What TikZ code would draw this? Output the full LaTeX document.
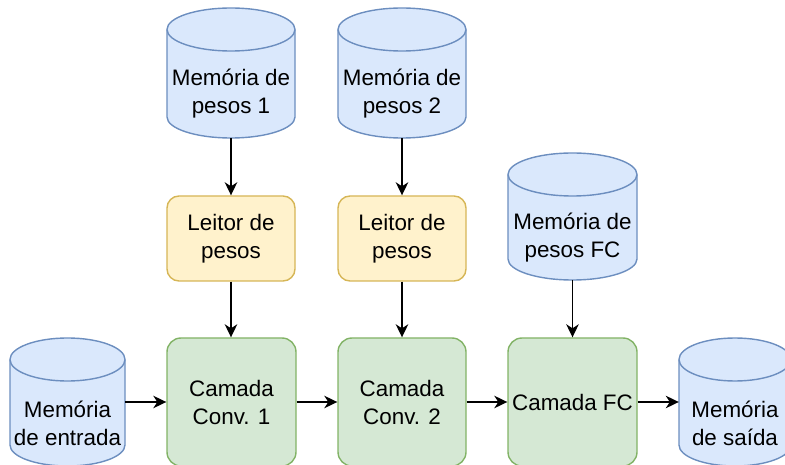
\documentclass[tikz,border=0pt]{standalone}
\usepackage{fontspec}
\setmainfont{Liberation Sans}
\usetikzlibrary{arrows.meta}

\definecolor{memfill}{HTML}{DAE8FC}
\definecolor{memstroke}{HTML}{6C8EBF}
\definecolor{rdfill}{HTML}{FFF2CC}
\definecolor{rdstroke}{HTML}{D6B656}
\definecolor{lyfill}{HTML}{D5E8D4}
\definecolor{lystroke}{HTML}{82B366}

\tikzset{
  txt/.style={font=\fontsize{22.4}{28}\selectfont, align=center, text=black, inner sep=0pt},
  memshape/.style={line width=1.4pt, draw=memstroke, fill=memfill},
  anchorbox/.style={draw=none, fill=none, inner sep=0pt},
  reader/.style={txt, line width=1.4pt, draw=rdstroke, fill=rdfill, rounded corners=12pt,
                 minimum width=128pt, minimum height=85pt},
  layer/.style={txt, line width=1.4pt, draw=lystroke, fill=lyfill, rounded corners=14pt,
                minimum height=128pt},
  link/.style={line width=1.5pt, -{Stealth[length=13pt,width=12.5pt,inset=4pt]}}
}

% Storage cylinder: #1 name, #2/#3 centre, #4 width, #5 height, #6 label
\newcommand\memcyl[6]{%
  \node[anchorbox, minimum width=#4pt, minimum height=#5pt] (#1) at (#2,#3) {};
  \path[memshape]
    (#2-#4/2, #3+#5/2-21.5) -- (#2-#4/2, #3-#5/2+21)
    arc[start angle=180, end angle=360, x radius=#4/2, y radius=21]
    -- (#2+#4/2, #3+#5/2-21.5)
    arc[start angle=0, end angle=180, x radius=#4/2, y radius=21.5] -- cycle;
  \draw[memshape, fill=none]
    (#2-#4/2, #3+#5/2-21.5)
    arc[start angle=180, end angle=360, x radius=#4/2, y radius=21.5];
  \node[txt] (#1-label) at (#2, #3-21) {#6};
}

\begin{document}
\begin{tikzpicture}[x=1pt, y=1pt]
  \useasboundingbox (0,0) rectangle (785,464);
  \clip (0,0) rectangle (785,464);

  % weight memories
  \memcyl{mw1}{231}{391}{128}{130}{Memória de\\pesos 1}
  \memcyl{mw2}{402}{391}{128}{130}{Memória de\\pesos 2}
  \memcyl{mwfc}{572.5}{247.5}{129}{127}{Memória de\\pesos FC}

  % input / output memories
  \memcyl{min}{67.5}{62}{115}{128}{Memória\\de entrada}
  \memcyl{mout}{735}{62}{112}{128}{Memória\\de saída}

  % weight readers
  \node[reader] (rd1) at (231,225.5) {Leitor de\\pesos};
  \node[reader] (rd2) at (402,225.5) {Leitor de\\pesos};

  % processing layers
  \node[layer, minimum width=129pt] (cv1) at (231.5,62) {Camada\\Conv. 1};
  \node[layer, minimum width=128pt] (cv2) at (402,62) {Camada\\Conv. 2};
  \node[layer, minimum width=129pt] (fc) at (572.5,62) {Camada FC};

  % connections
  \draw[link] (mw1.south) -- (rd1.north);
  \draw[link] (mw2.south) -- (rd2.north);
  \draw[link] (rd1.south) -- (cv1.north -| rd1.south);
  \draw[link] (rd2.south) -- (cv2.north);
  \draw[link] (mwfc.south) -- (fc.north);
  \draw[link] (min.east) -- (cv1.west);
  \draw[link] (cv1.east) -- (cv2.west);
  \draw[link] (cv2.east) -- (fc.west);
  \draw[link] (fc.east) -- (mout.west);
\end{tikzpicture}
\end{document}
